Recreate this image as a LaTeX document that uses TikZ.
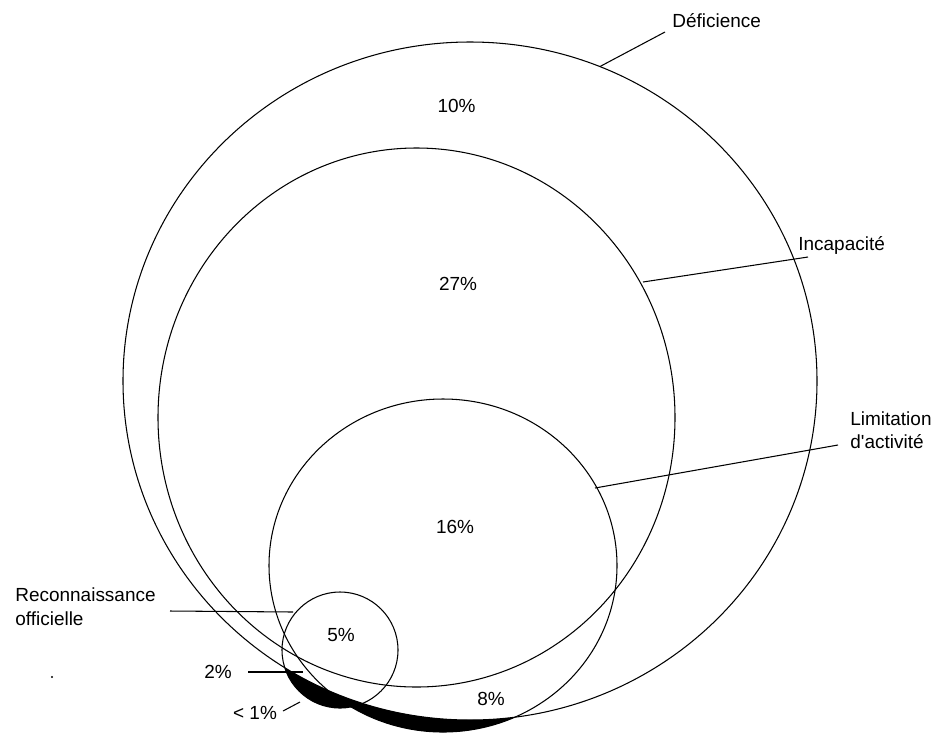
\documentclass[tikz,border=0pt]{standalone}
\usepackage{fontspec}
\setmainfont{Liberation Sans}[Ligatures=TeXOff]
\begin{document}
\begin{tikzpicture}[x=0.02cm, y=-0.02cm,
  outline/.style={draw=black, line width=0.6pt},
  leader/.style={draw=black, line width=0.6pt},
  lbl/.style={inner sep=0pt, font=\fontsize{10.8}{13}\selectfont},
  pct/.style={inner sep=0pt, font=\fontsize{10.8}{13}\selectfont}]
\useasboundingbox[fill=white] (0,0) rectangle (936,738);

% centres of the sets
\coordinate (cDef) at (470,381);
\coordinate (cInc) at (416.5,417.5);
\coordinate (cLim) at (443,565.5);
\coordinate (cRec) at (340,650);

% black region: outside Deficience but inside Limitation or Reconnaissance
\begin{scope}[even odd rule]
  \clip (-20,-20) rectangle (960,760) (cDef) ellipse [x radius=347, y radius=339];
  \fill[black] (cLim) ellipse [x radius=174, y radius=166.5];
  \fill[black] (cRec) circle [radius=58];
\end{scope}

% outlines
\draw[outline] (cDef) ellipse [x radius=347, y radius=339];
\draw[outline] (cInc) ellipse [x radius=258.5, y radius=269.5];
\draw[outline] (cLim) ellipse [x radius=174, y radius=166.5];
\draw[outline] (cRec) circle [radius=58];

% labels
\node[lbl, anchor=base west] (tDef) at (672,27.5) {Déficience};
\node[lbl, anchor=base west] (tInc) at (798,250) {Incapacité};
\node[lbl, anchor=base west] (tLimA) at (850,425) {Limitation};
\node[lbl, anchor=base west] (tLimB) at (850,448) {d'activité};
\node[lbl, anchor=base west] (tRecA) at (15,601.5) {Reconnaissance};
\node[lbl, anchor=base west] (tRecB) at (15,625) {officielle};

% percentages
\node[pct] (p10) at (456.5,105.5) {10\%};
\node[pct] (p27) at (458,283.5) {27\%};
\node[pct] (p16) at (455,527) {16\%};
\node[pct] (p5) at (341,635) {5\%};
\node[pct] (p8) at (491,699) {8\%};
\node[pct] (p2) at (218,672) {2\%};
\node[pct] (p1) at (255,713) {< 1\%};

% leader end points
\coordinate (aDef) at (665,32);
\coordinate (bDef) at (600,66.5);
\coordinate (aInc) at (808,257);
\coordinate (bInc) at (643,282);
\coordinate (aLim) at (838,445);
\coordinate (bLim) at (595,488);
\coordinate (aRec) at (170,611);
\coordinate (bRec) at (293,612);
\coordinate (a2) at (248,672);
\coordinate (b2) at (303,672);
\coordinate (a1) at (283,711);
\coordinate (b1) at (300,702);

\draw[leader] (aDef) -- (bDef);
\draw[leader] (aInc) -- (bInc);
\draw[leader] (aLim) -- (bLim);
\draw[leader] (aRec) -- (bRec);
\draw[leader] (a2) -- (b2);
\draw[leader] (a1) -- (b1);

% stray speck
\fill[black] (52,677) circle [radius=1.2];
\end{tikzpicture}
\end{document}
